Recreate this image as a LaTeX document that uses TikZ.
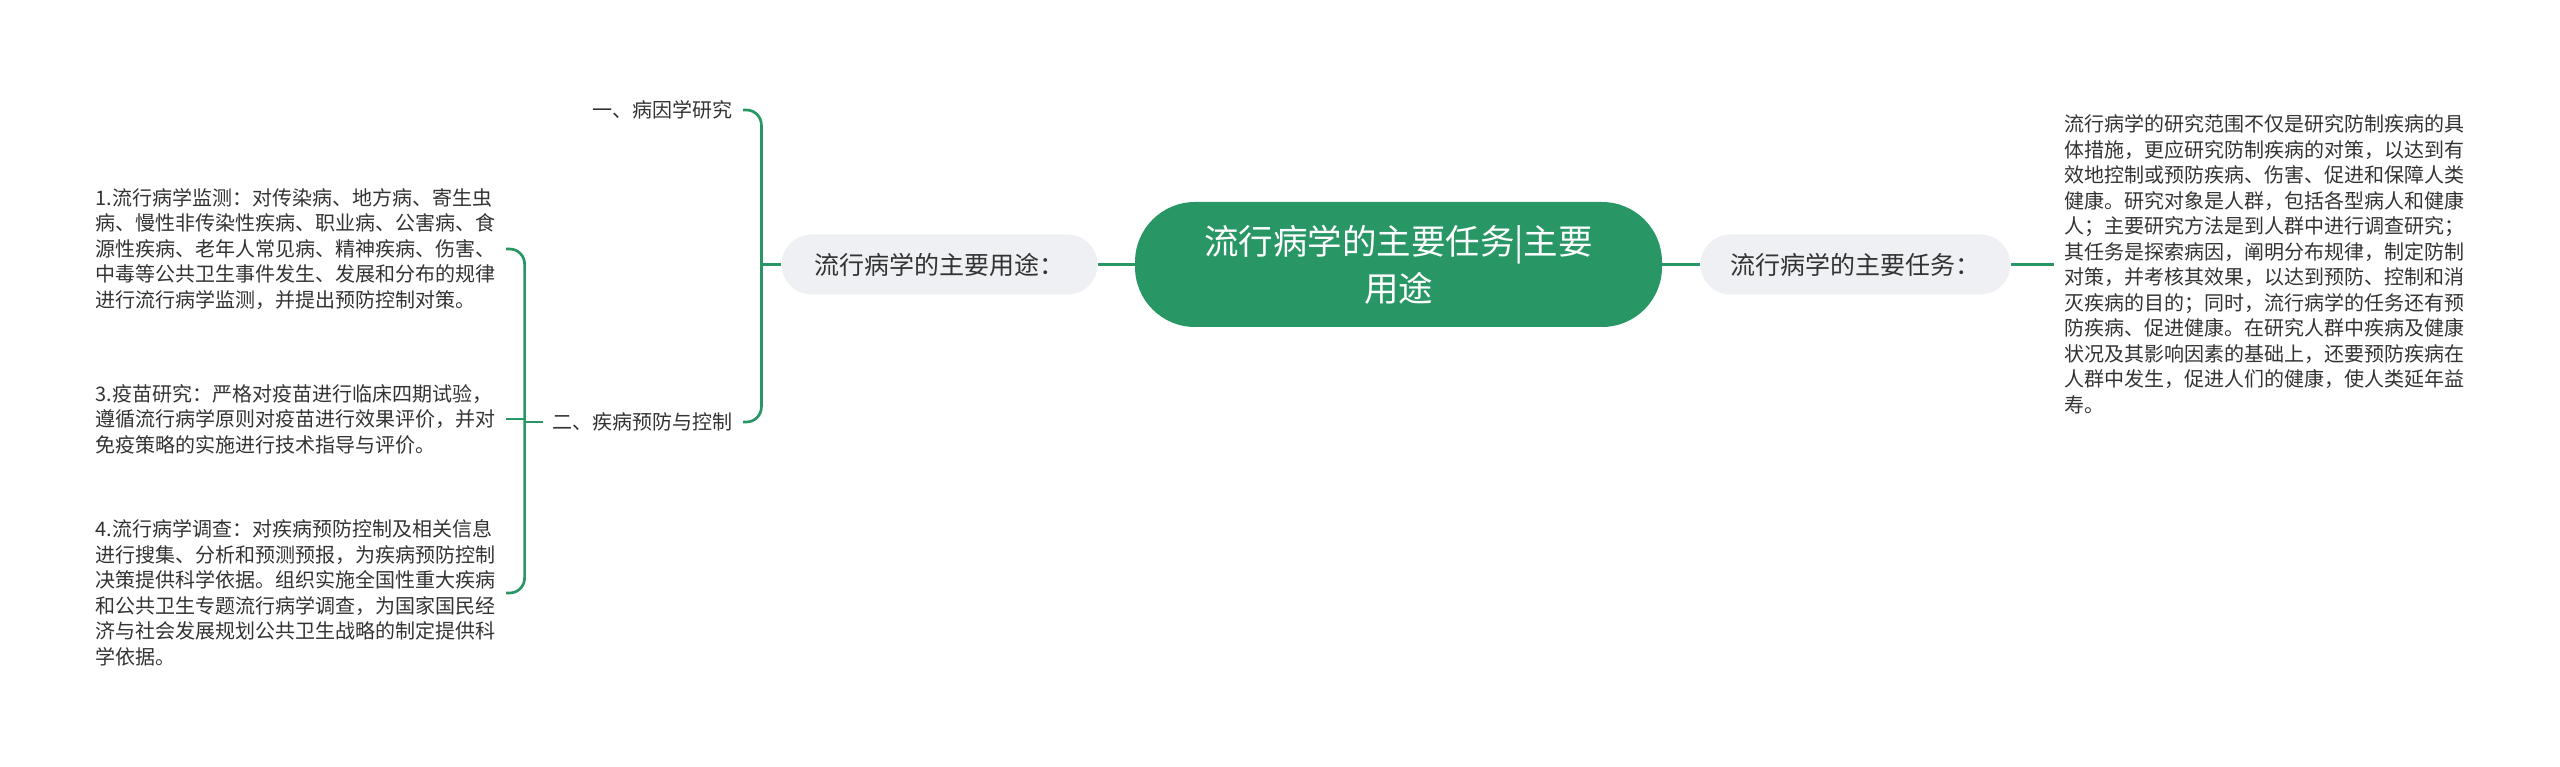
\documentclass[tikz,border=0pt]{standalone}
\usepackage{fontspec}
\setmainfont{Noto Sans CJK SC}
\usetikzlibrary{positioning}
\definecolor{mapgreen}{RGB}{41,150,101}
\definecolor{subgray}{RGB}{238,240,243}
\definecolor{txtgray}{RGB}{51,51,51}
\tikzset{
x=1pt, y=-1pt, % one unit is one pixel of the picture, y grows downwards
link/.style={draw=mapgreen, line width=2.7pt, rounded corners=15pt}, % the green branches
root/.style={fill=mapgreen, text=white, rounded corners=60pt, minimum width=527pt, minimum height=125pt, align=center, font=\fontsize{34.5}{47}\selectfont}, % the centre topic
sub/.style={fill=subgray, text=txtgray, rounded corners=30pt, minimum height=60pt, font=\fontsize{25}{30}\selectfont}, % the two main branches
leaf/.style={text=txtgray, inner xsep=10pt, inner ysep=0pt, font=\fontsize{20}{25.5}\selectfont}, % plain text leaves
note/.style={leaf, text width=400pt, align=left}, % long text blocks
}

\begin{document}
\begin{tikzpicture}
    \useasboundingbox (0,0) rectangle (2560,767);
    \node[root] (root) at (1398.5,264.5) {流行病学的主要任务|主要\\用途};
    \node[sub, minimum width=316pt, left=37pt of root] (use) {流行病学的主要用途：};
    \node[sub, minimum width=310pt, right=38pt of root] (task) {流行病学的主要任务：};
    \node[note, inner xsep=11pt, right=43pt of task] (tasktext) {流行病学的研究范围不仅是研究防制疾病的具\\体措施，更应研究防制疾病的对策，以达到有\\效地控制或预防疾病、伤害、促进和保障人类\\健康。研究对象是人群，包括各型病人和健康\\人；主要研究方法是到人群中进行调查研究；\\其任务是探索病因，阐明分布规律，制定防制\\对策，并考核其效果，以达到预防、控制和消\\灭疾病的目的；同时，流行病学的任务还有预\\防疾病、促进健康。在研究人群中疾病及健康\\状况及其影响因素的基础上，还要预防疾病在\\人群中发生，促进人们的健康，使人类延年益\\寿。};
    \coordinate[left=20pt of use] (j1);
    \node[leaf, anchor=east] (cause) at (743,110) {一、病因学研究};
    \node[leaf, anchor=east] (ctrl) at (743,422) {二、疾病预防与控制};
    \coordinate[left=18pt of ctrl] (j2);
    \node[note, anchor=east] (mon) at (506,249) {1.流行病学监测：对传染病、地方病、寄生虫\\病、慢性非传染性疾病、职业病、公害病、食\\源性疾病、老年人常见病、精神疾病、伤害、\\中毒等公共卫生事件发生、发展和分布的规律\\进行流行病学监测，并提出预防控制对策。};
    \node[note, anchor=east] (vac) at (506,419) {3.疫苗研究：严格对疫苗进行临床四期试验，\\遵循流行病学原则对疫苗进行效果评价，并对\\免疫策略的实施进行技术指导与评价。};
    \node[note, anchor=east] (inv) at (506,593) {4.流行病学调查：对疾病预防控制及相关信息\\进行搜集、分析和预测预报，为疾病预防控制\\决策提供科学依据。组织实施全国性重大疾病\\和公共卫生专题流行病学调查，为国家国民经\\济与社会发展规划公共卫生战略的制定提供科\\学依据。};
    \draw[link] (use) -- (root);
    \draw[link] (root) -- (task);
    \draw[link] (task) -- (tasktext);
    \draw[link] (cause.east) -| (j1) |- (ctrl.east);
    \draw[link] (j1) -- (use);
    \draw[link] (mon.east) -| (j2) |- (inv.east);
    \draw[link] (vac.east) -- (vac.east -| j2);
    \draw[link] (j2) -- (ctrl);
\end{tikzpicture}
\end{document}
